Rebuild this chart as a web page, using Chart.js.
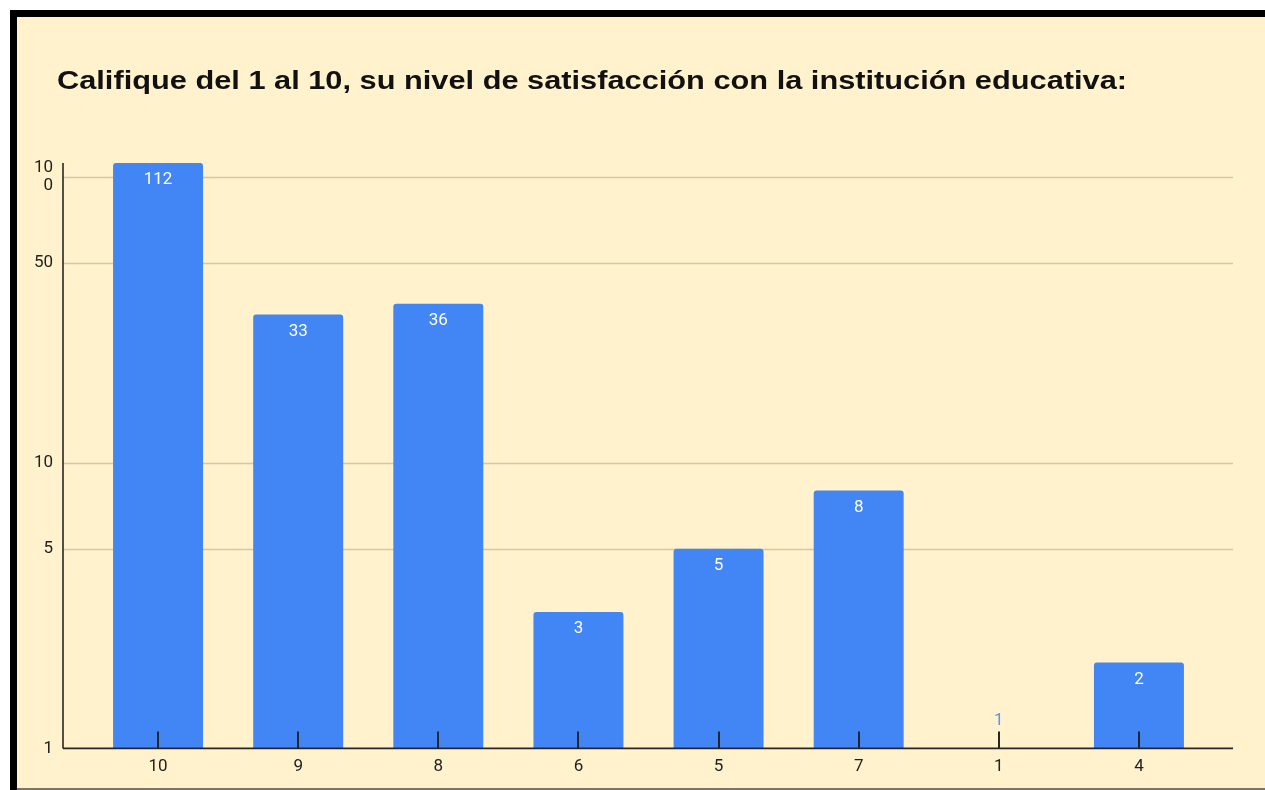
<!DOCTYPE html>
<html>
<head>
<meta charset="utf-8">
<script src="https://cdn.jsdelivr.net/npm/chart.js@4/dist/chart.umd.min.js"></script>
<style>
  html,body{margin:0;padding:0;background:#fff;}
  #wrap{position:absolute;left:0;top:0;width:1265px;height:790px;}
</style>
</head>
<body>
<div id="wrap"><canvas id="c" width="1265" height="790"></canvas></div>
<script>
const titleText = "Califique del 1 al 10, su nivel de satisfacción con la institución educativa:";
const categories = ["10", "9", "8", "6", "5", "7", "1", "4"];
const counts = [112, 33, 36, 3, 5, 8, 1, 2];
const yTicks = [1, 5, 10, 50, 100];

const BG = '#fff2cc';
const BAR = '#4285f4';

const framePlugin = {
  id: 'frame',
  beforeDraw(chart) {
    const ctx = chart.ctx;
    ctx.save();
    ctx.fillStyle = '#ffffff';
    ctx.fillRect(0, 0, 1265, 790);
    ctx.fillStyle = BG;
    ctx.fillRect(17, 17, 1248, 773);
    ctx.fillStyle = '#000000';
    ctx.fillRect(10, 10, 1255, 7);
    ctx.fillRect(10, 10, 7, 780);
    ctx.fillStyle = '#7d7565';
    ctx.fillRect(17, 788, 1248, 2);
    ctx.fillStyle = '#111111';
    ctx.font = 'bold 26px "Liberation Sans", Arial, sans-serif';
    ctx.textBaseline = 'alphabetic';
    ctx.textAlign = 'left';
    ctx.translate(57, 89);
    ctx.scale(1.183, 1);
    ctx.fillText(titleText, 0, 0);
    ctx.restore();
  },
  beforeDatasetsDraw(chart) {
    const ctx = chart.ctx;
    const y = chart.scales.y;
    const a = chart.chartArea;
    const x0 = a.left - 25, x1 = a.right + 24;
    ctx.save();
    ctx.strokeStyle = '#d3c8a5';
    ctx.lineWidth = 1.5;
    yTicks.forEach(v => {
      if (v === 1) return;
      const py = Math.round(y.getPixelForValue(v)) + 0.5;
      ctx.beginPath();
      ctx.moveTo(x0, py);
      ctx.lineTo(x1, py);
      ctx.stroke();
    });
    ctx.restore();
  },
  afterDatasetsDraw(chart) {
    const ctx = chart.ctx;
    const a = chart.chartArea;
    const xs = chart.scales.x;
    const x0 = a.left - 25, x1 = a.right + 24;
    const meta = chart.getDatasetMeta(0);
    ctx.save();
    ctx.font = '17px Roboto, "Noto Sans", sans-serif';
    ctx.textAlign = 'center';
    ctx.textBaseline = 'middle';
    meta.data.forEach((bar, i) => {
      const h = bar.base - bar.y;
      if (h > 26) {
        ctx.fillStyle = '#ffffff';
        ctx.fillText(String(counts[i]), bar.x, bar.y + 17);
      } else {
        ctx.fillStyle = '#5b93f2';
        ctx.fillText(String(counts[i]), bar.x, bar.y - 28);
      }
    });
    ctx.strokeStyle = '#262626';
    ctx.lineWidth = 1.6;
    ctx.beginPath();
    ctx.moveTo(x0, a.bottom);
    ctx.lineTo(x1, a.bottom);
    ctx.stroke();
    ctx.beginPath();
    ctx.moveTo(x0, a.top);
    ctx.lineTo(x0, a.bottom);
    ctx.stroke();
    ctx.lineWidth = 2;
    categories.forEach((c, i) => {
      const px = Math.round(xs.getPixelForValue(i));
      ctx.beginPath();
      ctx.moveTo(px, a.bottom - 17);
      ctx.lineTo(px, a.bottom);
      ctx.stroke();
    });
    ctx.restore();
  }
};

new Chart(document.getElementById('c'), {
  type: 'bar',
  data: {
    labels: categories,
    datasets: [{
      data: counts,
      backgroundColor: BAR,
      borderRadius: 3,
      borderSkipped: 'start',
      barPercentage: 0.642,
      categoryPercentage: 1.0
    }]
  },
  options: {
    responsive: false,
    animation: false,
    devicePixelRatio: 1,
    layout: { padding: { top: 163, left: 17, right: 56, bottom: 0 } },
    plugins: { legend: { display: false }, title: { display: false }, tooltip: { enabled: false } },
    scales: {
      x: {
        grid: { display: false, drawTicks: false },
        border: { display: false },
        ticks: { color: '#222', font: { family: 'Roboto', size: 17 }, padding: 8, maxRotation: 0 },
        afterFit(s) { s.height = 41.6; }
      },
      y: {
        type: 'logarithmic',
        min: 1,
        max: 112,
        grid: { display: true, drawOnChartArea: false, drawTicks: true, tickLength: 35, color: 'rgba(0,0,0,0)' },
        border: { display: false },
        afterBuildTicks(s) { s.ticks = yTicks.map(v => ({ value: v })); },
        afterFit(s) { s.width = 71; },
        ticks: {
          autoSkip: false,
          color: '#222',
          padding: 0,
          font: { family: 'Roboto', size: 17, lineHeight: 1.05 },
          callback: (v) => v === 100 ? ['10', '0'] : String(v)
        }
      }
    }
  },
  plugins: [framePlugin]
});
</script>
</body>
</html>
